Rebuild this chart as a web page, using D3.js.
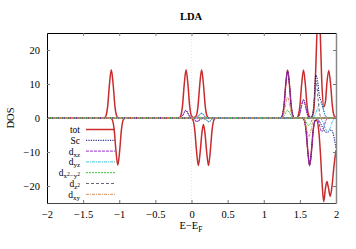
<!DOCTYPE html>
<html>
<head>
<meta charset="utf-8">
<script src="https://cdn.jsdelivr.net/npm/d3@7"></script>
<style>
body { margin: 0; background: #fff; }
svg text { font-family: "Liberation Serif", "DejaVu Serif", serif; fill: #000; }
</style>
</head>
<body>
<svg id="chart" width="356" height="249"></svg>
<script>
// energy axis / dos axis
const xTicks = [-2, -1.5, -1, -0.5, 0, 0.5, 1, 1.5, 2];
const yTicks = [-20, -10, 0, 10, 20];

// [E, DOS], spin up (+) and spin down (-)
const totUp = [[-2,0],[-1.21,0],[-1.185,0.6],[-1.16,3.5],[-1.135,10],[-1.11,14.2],[-1.085,10],[-1.06,3.5],[-1.035,0.6],[-1.01,0],
  [-0.175,0],[-0.15,0.6],[-0.125,3.5],[-0.1,10],[-0.075,14.2],[-0.05,10],[-0.025,3.5],[0,0.6],[0.03,0.1],[0.065,0.6],[0.09,3.5],[0.115,10],[0.14,14.2],[0.165,10],[0.19,3.5],[0.215,0.6],[0.24,0],
  [1.23,0],[1.255,0.6],[1.28,3.5],[1.305,10],[1.33,14.1],[1.355,10],[1.38,3.5],[1.405,0.6],[1.43,0],
  [1.45,0],[1.475,0.6],[1.5,3.5],[1.525,10],[1.55,14.1],[1.575,10],[1.6,3.5],[1.625,0.6],[1.65,0.1],
  [1.685,1.3],[1.71,8.5],[1.735,24.5],[1.757,35],[1.78,26],[1.805,10],[1.83,3.2],[1.855,5],[1.875,10.5],[1.9,14],[1.925,10],[1.95,3.5],[1.975,0.6],[2,0.1]];
const totDn = [[-2,0],[-1.12,0],[-1.095,-0.6],[-1.07,-3.5],[-1.045,-9.8],[-1.02,-13.9],[-0.995,-9.8],[-0.97,-3.5],[-0.945,-0.6],[-0.92,0],
  [-0.005,0],[0.02,-0.6],[0.045,-3.5],[0.07,-9.8],[0.095,-14],[0.12,-10],[0.145,-4.2],[0.165,-1.9],[0.185,-4.2],[0.21,-10],[0.235,-14],[0.26,-9.8],[0.285,-3.5],[0.31,-0.6],[0.335,0],
  [1.535,0],[1.56,-0.6],[1.585,-3.5],[1.61,-9.8],[1.635,-14],[1.66,-9.8],[1.685,-3.5],[1.71,-0.8],[1.735,-0.7],[1.76,-3.5],[1.785,-10.5],[1.81,-20],[1.83,-24.6],[1.855,-20.5],[1.875,-18.7],[1.895,-20.5],[1.92,-23],[1.945,-20],[1.97,-14.5],[2,-9.5]];

const scUp = [[-2,0],[-0.175,0],[-0.15,0.1],[-0.125,0.6],[-0.1,1.6],[-0.078,2.3],[-0.055,1.6],[-0.03,0.6],[-0.005,0.1],[0.06,0.1],[0.085,0.3],[0.11,0.9],[0.14,1.4],[0.165,1.0],[0.19,0.3],[0.215,0],
  [1.23,0],[1.255,0.6],[1.28,3.5],[1.305,10],[1.33,14],[1.355,10],[1.38,3.5],[1.405,0.6],[1.43,0],
  [1.45,0],[1.475,0.2],[1.5,1.3],[1.525,3.8],[1.55,5.4],[1.575,3.8],[1.6,1.3],[1.625,0.2],[1.65,0],
  [1.67,0.5],[1.695,4.5],[1.72,12.6],[1.745,11],[1.77,6.5],[1.795,5],[1.82,3],[1.845,1],[1.87,0.2],[1.9,0],[2,0]];
const scDn = [[-2,0],[0,0],[0.03,-0.3],[0.055,-0.8],[0.08,-1.0],[0.105,-0.7],[0.13,-0.3],[0.155,-0.2],[0.195,-0.4],[0.22,-0.9],[0.24,-1.1],[0.265,-0.8],[0.29,-0.2],[0.315,0],
  [1.535,0],[1.56,-0.6],[1.585,-3.5],[1.61,-9.8],[1.635,-14],[1.66,-9.8],[1.685,-3.5],[1.71,-0.8],[1.735,-0.3],[1.76,-0.6],[1.785,-1.5],[1.81,-2.6],[1.835,-3.6],[1.86,-4.2],[1.885,-4.2],[1.91,-3.8],[1.935,-3.5],[1.96,-4.5],[1.98,-6.5],[2,-9]];

const dxzUp = [[-2,0],[-0.175,0],[-0.15,0.1],[-0.125,0.6],[-0.1,1.6],[-0.078,2.3],[-0.055,1.6],[-0.03,0.6],[-0.005,0.1],[0.02,0],
  [1.23,0],[1.255,0.6],[1.28,3.5],[1.305,10],[1.33,14],[1.355,10],[1.38,3.5],[1.405,0.6],[1.43,0],
  [1.45,0],[1.475,0.2],[1.5,1.3],[1.525,3.8],[1.55,5.4],[1.575,3.8],[1.6,1.3],[1.625,0.2],[1.65,0],[2,0]];
const dxzDn = [[-2,0],[0,0],[0.03,-0.3],[0.055,-0.8],[0.08,-1.0],[0.105,-0.7],[0.13,-0.2],[0.155,0],
  [1.535,0],[1.56,-0.6],[1.585,-3.5],[1.61,-9.8],[1.635,-14],[1.66,-9.8],[1.685,-3.5],[1.71,-0.8],[1.735,-0.3],[1.76,-1.2],[1.785,-3.2],[1.805,-4.1],[1.83,-3],[1.855,-1],[1.88,-0.2],[1.9,0],[2,0]];

const dyzUp = [[-2,0],[0.06,0],[0.085,0.2],[0.11,0.9],[0.14,1.4],[0.165,1.0],[0.19,0.3],[0.215,0],
  [1.66,0],[1.685,0.2],[1.71,0.9],[1.735,2.3],[1.76,3.8],[1.785,4.5],[1.81,3.6],[1.835,1.8],[1.86,0.5],[1.885,0],[2,0]];
const dyzDn = [[-2,0],[0.17,0],[0.195,-0.3],[0.22,-0.9],[0.24,-1.1],[0.265,-0.8],[0.29,-0.2],[0.315,0],
  [1.78,0],[1.805,-0.6],[1.83,-1.8],[1.855,-3.2],[1.88,-4],[1.905,-3.6],[1.93,-2.2],[1.955,-0.8],[1.98,-0.2],[2,0]];

const dx2y2Up = [[-2,0],[1.255,0],[1.28,0.6],[1.305,1.6],[1.33,2.3],[1.355,1.6],[1.38,0.6],[1.405,0],[2,0]];
const dx2y2Dn = [[-2,0],[1.545,0],[1.57,-0.5],[1.595,-1.6],[1.62,-2.2],[1.645,-1.6],[1.67,-0.5],[1.695,0],[2,0]];

const dz2Up = [[-2,0],[1.65,0],[1.675,0.8],[1.7,5.5],[1.725,11],[1.75,6],[1.775,1.2],[1.8,0],[2,0]];
const dz2Dn = [[-2,0],[2,0]];

const dxyUp = [[-2,0],[1.255,0],[1.28,1.5],[1.305,4.3],[1.33,6.2],[1.355,4.3],[1.38,1.5],[1.405,0.2],[1.43,0],[2,0]];
const dxyDn = [[-2,0],[1.55,0],[1.575,-1.4],[1.6,-3.9],[1.625,-5.5],[1.65,-3.9],[1.675,-1.4],[1.7,-0.2],[1.725,0],[2,0]];

const series = [
  {name: "tot",   up: totUp,   dn: totDn,   color: "#c82c2c", width: 1.5, dash: null},
  {name: "Sc",    up: scUp,    dn: scDn,    color: "#00006e", width: 1,   dash: "1.2,1.2"},
  {name: "dxz",   up: dxzUp,   dn: dxzDn,   color: "#9a2fc8", width: 1,   dash: "3,1"},
  {name: "dyz",   up: dyzUp,   dn: dyzDn,   color: "#38c8e0", width: 1,   dash: "3,1,1,1"},
  {name: "dx2y2", up: dx2y2Up, dn: dx2y2Dn, color: "#3cc040", width: 1,   dash: "2,1"},
  {name: "dz2",   up: dz2Up,   dn: dz2Dn,   color: "#686878", width: 1,   dash: "3,2"},
  {name: "dxy",   up: dxyUp,   dn: dxyDn,   color: "#d29058", width: 1,   dash: "3,1,1,1"}
];

var svg = d3.select("#chart");

var x = d3.scaleLinear().domain([-2, 2]).range([47, 336]);
var y = d3.scaleLinear().domain([-25, 25]).range([203, 33]);

svg.append("clipPath").attr("id", "clip")
  .append("rect").attr("x", 47).attr("y", 33).attr("width", 289).attr("height", 170);

// fermi level
svg.append("line")
  .attr("x1", x(0)).attr("x2", x(0)).attr("y1", y(25)).attr("y2", y(-25))
  .attr("stroke", "#dcdcdc").attr("stroke-width", 0.7).attr("stroke-dasharray", "1,2");

var line = d3.line()
  .x(d => x(d[0]))
  .y(d => y(d[1]))
  .curve(d3.curveMonotoneX);

const plot = svg.append("g").attr("clip-path", "url(#clip)");
series.forEach(function(s) {
  [s.up, s.dn].forEach(function(pts) {
    plot.append("path")
      .attr("d", line(pts))
      .attr("fill", "none")
      .attr("stroke", s.color)
      .attr("stroke-width", s.width)
      .attr("stroke-dasharray", s.dash);
  });
});

// axes, ticks inside and mirrored
const fmt = d3.format("~g");
svg.append("g").attr("transform", "translate(0,203)")
  .call(d3.axisBottom(x).tickValues(xTicks).tickFormat(fmt).tickSizeInner(-3).tickSizeOuter(0).tickPadding(8))
  .call(g => g.select(".domain").attr("stroke", "#444").attr("stroke-width", 1.2));
svg.append("g").attr("transform", "translate(0,33)")
  .call(d3.axisTop(x).tickValues(xTicks).tickFormat("").tickSizeInner(-3).tickSizeOuter(0))
  .call(g => g.select(".domain").attr("stroke", "#000"));
svg.append("g").attr("transform", "translate(47,0)")
  .call(d3.axisLeft(y).tickValues(yTicks).tickFormat(fmt).tickSizeInner(-3).tickSizeOuter(0).tickPadding(7))
  .call(g => g.select(".domain").attr("stroke", "#000"));
svg.append("g").attr("transform", "translate(336,0)")
  .call(d3.axisRight(y).tickValues(yTicks).tickFormat("").tickSizeInner(-3).tickSizeOuter(0))
  .call(g => g.select(".domain").attr("stroke", "#888").attr("stroke-width", 1.5));

svg.selectAll(".tick line").attr("stroke", "#777");
svg.selectAll(".tick text").style("font-family", "Liberation Serif, serif").style("font-size", "10.5px").attr("fill", "#000");

// titles
svg.append("text").attr("x", 191).attr("y", 20).attr("text-anchor", "middle")
  .style("font-size", "10.5px").style("font-weight", "bold").text("LDA");
svg.append("text").attr("transform", "translate(14,118) rotate(-90)").attr("text-anchor", "middle")
  .style("font-size", "10.5px").text("DOS");
const xl = svg.append("text").attr("x", 191).attr("y", 229).attr("text-anchor", "middle").style("font-size", "10.5px");
xl.append("tspan").text("E\u2212E");
xl.append("tspan").attr("dy", 3).style("font-size", "7.5px").text("F");

// legend
const legendLabels = [
  [["tot", 0]],
  [["Sc", 0]],
  [["d", 0], ["xz", 1]],
  [["d", 0], ["yz", 1]],
  [["d", 0], ["x", 1], ["2", 2], ["\u2212y", 1], ["2", 2]],
  [["d", 0], ["z", 1], ["2", 2]],
  [["d", 0], ["xy", 1]]
];
const legend = svg.append("g");
series.forEach(function(s, i) {
  const ly = 129.5 + i * 10.8;
  const t = legend.append("text").attr("x", 80).attr("y", ly + 3.5).attr("text-anchor", "end").style("font-size", "9.5px");
  let level = 0;
  legendLabels[i].forEach(function(part) {
    const target = part[1] === 0 ? 0 : (part[1] === 1 ? 2 : -0.5);
    const sp = t.append("tspan").text(part[0]);
    if (target !== level) sp.attr("dy", target - level);
    if (part[1] > 0) sp.style("font-size", part[1] === 1 ? "7px" : "5.5px");
    level = target;
  });
  legend.append("line")
    .attr("x1", 86).attr("x2", 115).attr("y1", ly).attr("y2", ly)
    .attr("stroke", s.color).attr("stroke-width", s.width)
    .attr("stroke-dasharray", s.dash);
});
</script>
</body>
</html>
